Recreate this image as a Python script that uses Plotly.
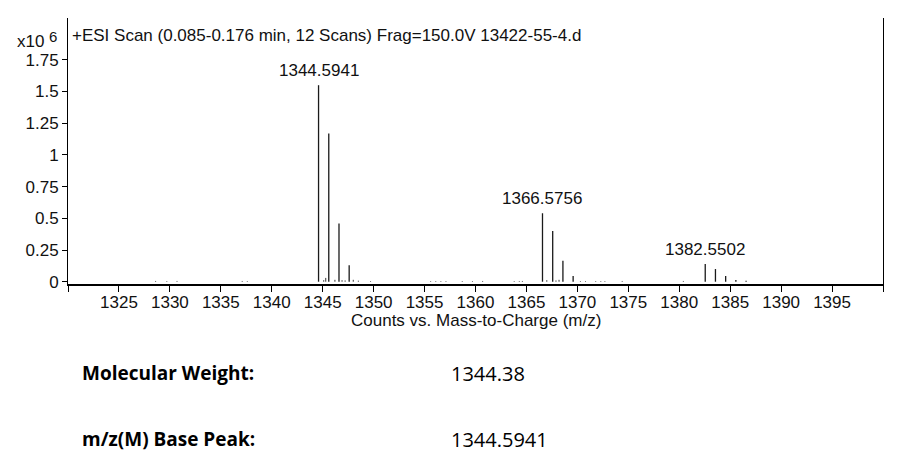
import plotly.graph_objects as go

# ---- data ----
peak_mz = [1344.5941, 1345.597, 1346.600, 1347.60,
           1366.5756, 1367.578, 1368.581, 1369.583,
           1382.5502, 1383.553, 1384.556, 1385.558, 1386.56]
peak_int = [1.55, 1.17, 0.46, 0.13,
            0.54, 0.40, 0.166, 0.045,
            0.14, 0.10, 0.045, 0.013, 0.008]

noise_mz = [1328.6, 1329.7, 1330.7, 1337.1, 1337.6, 1345.1, 1345.3, 1346.2,
            1346.9, 1347.2, 1348.0, 1348.5, 1349.7, 1355.6, 1356.1, 1356.6,
            1357.1, 1358.7, 1359.7, 1360.7, 1363.8, 1364.3, 1364.6, 1367.0,
            1367.9, 1368.2, 1370.3, 1370.8, 1371.8, 1372.3, 1372.7, 1374.4,
            1380.4]
noise_int = [0.006, 0.005, 0.006, 0.006, 0.005, 0.012, 0.03, 0.015,
             0.012, 0.01, 0.015, 0.008, 0.005, 0.005, 0.005, 0.005,
             0.005, 0.005, 0.005, 0.006, 0.005, 0.005, 0.006, 0.012,
             0.01, 0.015, 0.005, 0.005, 0.005, 0.005, 0.005, 0.006,
             0.006]

labeled_mz = [1344.5941, 1366.5756, 1382.5502]
labeled_int = [1.55, 0.54, 0.14]
labeled_text = ["1344.5941", "1366.5756", "1382.5502"]

x_tickvals = [1320, 1325, 1330, 1335, 1340, 1345, 1350, 1355, 1360,
              1365, 1370, 1375, 1380, 1385, 1390, 1395, 1400]
x_ticktext = ["", "1325", "1330", "1335", "1340", "1345", "1350", "1355", "1360",
              "1365", "1370", "1375", "1380", "1385", "1390", "1395", ""]
y_tickvals = [0, 0.25, 0.5, 0.75, 1, 1.25, 1.5, 1.75]
y_ticktext = ["0", "0.25", "0.5", "0.75", "1", "1.25", "1.5", "1.75"]

title_text = "+ESI Scan (0.085-0.176 min, 12 Scans) Frag=150.0V 13422-55-4.d"
info_labels = ["Molecular Weight:", "m/z(M) Base Peak:"]
info_values = ["1344.38", "1344.5941"]

W, H = 898, 473
ML, MR, MT, MB = 68, 15, 18, 189
PW, PH = W - ML - MR, H - MT - MB


def sticks(xs, ys):
    X, Y = [], []
    for x, y in zip(xs, ys):
        X += [x, x, None]
        Y += [0, y, None]
    return X, Y


fig = go.Figure()
nx, ny = sticks(noise_mz, noise_int)
fig.add_trace(go.Scatter(x=nx, y=ny, mode="lines",
                         line=dict(color="#333333", width=1), hoverinfo="skip"))
px_, py_ = sticks(peak_mz, peak_int)
fig.add_trace(go.Scatter(x=px_, y=py_, mode="lines",
                         line=dict(color="#1a1a1a", width=1.3), hoverinfo="skip"))

font_main = dict(family="Liberation Sans, Arial", size=17, color="#111111")

annotations = []
for x, y, t in zip(labeled_mz, labeled_int, labeled_text):
    annotations.append(dict(x=x, y=y, xref="x", yref="y", text=t, showarrow=False,
                            yanchor="bottom", xanchor="center", yshift=3, font=font_main))

annotations.append(dict(x=0, y=1, xref="paper", yref="paper", text=title_text,
                        showarrow=False, xanchor="left", yanchor="top",
                        xshift=2, yshift=-6, font=font_main))
annotations.append(dict(x=0, y=1, xref="paper", yref="paper",
                        text="x10", showarrow=False,
                        xanchor="right", yanchor="top", xshift=-22, yshift=-12,
                        font=font_main))
annotations.append(dict(x=0, y=1, xref="paper", yref="paper",
                        text="6", showarrow=False,
                        xanchor="right", yanchor="top", xshift=-9, yshift=-8,
                        font=dict(family="Liberation Sans, Arial", size=15, color="#111111")))
annotations.append(dict(x=0.5, y=0, xref="paper", yref="paper",
                        text="Counts vs. Mass-to-Charge (m/z)", showarrow=False,
                        xanchor="center", yanchor="top", yshift=-25, font=font_main))

info_font = dict(family="Open Sans, Lato", size=19, color="#000000")
info_ypx = [373, 439]
for lab, val, ypx in zip(info_labels, info_values, info_ypx):
    yy = (H - MB - ypx) / PH
    annotations.append(dict(x=(80 - ML) / PW, y=yy, xref="paper", yref="paper",
                            text="<b>" + lab + "</b>", showarrow=False,
                            xanchor="left", yanchor="middle", font=info_font))
    annotations.append(dict(x=(449 - ML) / PW, y=yy, xref="paper", yref="paper",
                            text=val, showarrow=False,
                            xanchor="left", yanchor="middle",
                            font=dict(family="Open Sans, Lato", size=20, color="#000000")))

fig.update_layout(
    width=W, height=H,
    margin=dict(l=ML, r=MR, t=MT, b=MB),
    paper_bgcolor="white", plot_bgcolor="white",
    showlegend=False,
    annotations=annotations,
    xaxis=dict(range=[1320, 1400], tickvals=x_tickvals, ticktext=x_ticktext,
               ticks="outside", ticklen=6, tickwidth=1, tickcolor="#000",
               ticklabelstandoff=-4,
               showline=True, linecolor="#000", linewidth=2, mirror=False,
               showgrid=False, zeroline=False, tickfont=font_main),
    yaxis=dict(range=[-0.018, 2.08], tickvals=y_tickvals, ticktext=y_ticktext,
               ticks="outside", ticklen=5, tickwidth=1, tickcolor="#000",
               showline=True, linecolor="#000", linewidth=1, mirror=True,
               showgrid=False, zeroline=False, tickfont=font_main),
)

fig.write_html("out.html")
